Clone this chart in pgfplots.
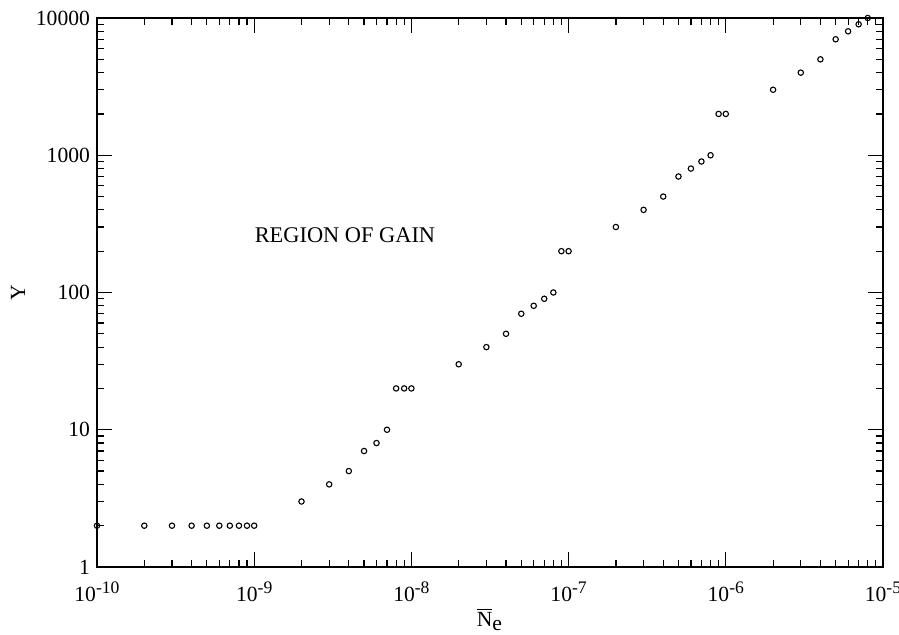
\documentclass[border=0pt]{standalone}
\usepackage{pgfplots}
\pgfplotsset{compat=1.18}
\usepackage{fontspec}
\setmainfont{Liberation Serif}
\newcommand\sups[1]{\raisebox{0.75ex}{\fontsize{8.8}{9}\selectfont#1}}

\begin{document}
\begin{tikzpicture}
\begin{axis}[
  scale only axis,
  width=393pt, height=274.5pt,
  xmode=log, ymode=log,
  xmin=1e-10, xmax=1e-5, ymin=1, ymax=10000,
  xtick={1e-10,1e-9,1e-8,1e-7,1e-6,1e-5},
  xticklabels={10\sups{-10},10\sups{-9},10\sups{-8},10\sups{-7},10\sups{-6},10\sups{-5}},
  ytick={1,10,100,1000,10000},
  yticklabels={1,10,100,1000,10000},
  tick align=inside,
  major tick length=7.5pt, minor tick length=3.5pt,
  tick style={black, line width=0.6pt},
  axis line style={black, line width=0.9pt},
  tick label style={font=\fontsize{10.8}{12}\selectfont},
  xticklabel style={yshift=-4pt},
  label style={font=\fontsize{10.8}{12}\selectfont},
  xlabel={$\overline{\textrm{N}}_{\textrm{e}}$},
  ylabel={Y},
  xlabel style={at={(axis description cs:0.5,-0.109)}, anchor=base},
  ylabel style={at={(axis description cs:-0.1005,0.5)}, anchor=center},
  clip=false,
]
\addplot[only marks, mark=o, mark size=1.35pt, black, line width=0.55pt] coordinates {
  (1e-10,2) (2e-10,2) (3e-10,2) (4e-10,2) (5e-10,2) (6e-10,2) (7e-10,2) (8e-10,2) (9e-10,2) (1e-9,2)
  (2e-9,3) (3e-9,4) (4e-9,5) (5e-9,7) (6e-9,8) (7e-9,10) (8e-9,20) (9e-9,20) (1e-8,20)
  (2e-8,30) (3e-8,40) (4e-8,50) (5e-8,70) (6e-8,80) (7e-8,90) (8e-8,100) (9e-8,200) (1e-7,200)
  (2e-7,300) (3e-7,400) (4e-7,500) (5e-7,700) (6e-7,800) (7e-7,900) (8e-7,1000) (9e-7,2000) (1e-6,2000)
  (2e-6,3000) (3e-6,4000) (4e-6,5000) (5e-6,7000) (6e-6,8000) (7e-6,9000) (8e-6,10000)
};
\node[font=\fontsize{11.2}{12}\selectfont, anchor=center] at (rel axis cs:0.3155,0.605) {REGION OF GAIN};
\coordinate (ll) at (rel axis cs:0,0);
\coordinate (ur) at (rel axis cs:1,1);
\end{axis}
\pgfresetboundingbox
\path ([shift={(-48.5pt,-34pt)}]ll) rectangle ([shift={(8pt,9pt)}]ur);
\end{tikzpicture}
\end{document}
